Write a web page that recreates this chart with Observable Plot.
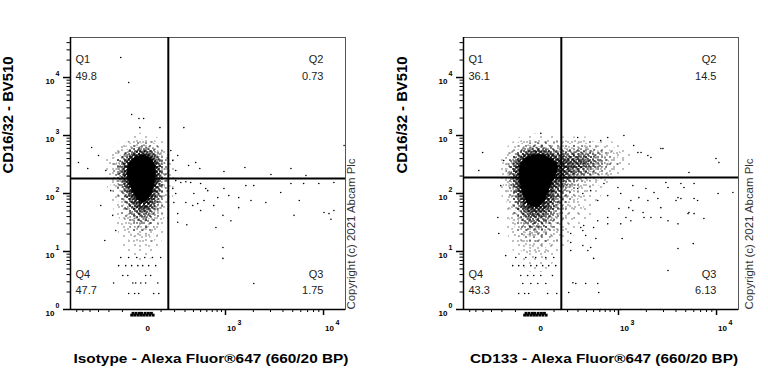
<!DOCTYPE html>
<html><head><meta charset="utf-8">
<script src="https://cdn.jsdelivr.net/npm/d3@7"></script>
<script src="https://cdn.jsdelivr.net/npm/@observablehq/plot@0.6"></script>
<style>
body{margin:0;background:#fff;}
#wrap{display:flex;width:768px;height:384px;overflow:hidden;}
</style></head><body>
<svg width="0" height="0" style="position:absolute">
  <defs>
    <pattern id="s1" width="11" height="9" patternUnits="userSpaceOnUse"><rect x="2" y="1" width="1" height="1"/><rect x="7" y="6" width="1" height="1"/></pattern>
    <pattern id="s2" width="9" height="11" patternUnits="userSpaceOnUse"><rect x="4" y="3" width="1" height="1"/><rect x="1" y="8" width="1" height="1"/><rect x="7" y="9" width="1" height="1"/></pattern>
    <pattern id="s3" width="8" height="7" patternUnits="userSpaceOnUse"><rect x="1" y="2" width="1" height="1"/><rect x="5" y="5" width="1" height="1"/></pattern>
    <pattern id="s4" width="7" height="6" patternUnits="userSpaceOnUse"><rect x="3" y="0" width="1" height="1"/><rect x="0" y="4" width="1" height="1"/><rect x="5" y="3" width="1" height="1"/></pattern>
    <pattern id="s5" width="5" height="5" patternUnits="userSpaceOnUse"><rect x="1" y="1" width="1" height="1"/><rect x="3" y="3" width="1" height="1"/><rect x="4" y="0" width="1" height="1"/></pattern>
    <pattern id="s6" width="4" height="4" patternUnits="userSpaceOnUse"><rect x="0" y="2" width="1" height="1"/><rect x="2" y="1" width="1" height="1"/><rect x="3" y="3" width="1" height="1"/></pattern>
  </defs>
</svg>
<div id="wrap"></div>
<script>
// ---------- axis / scale data ----------
const xDomain = [-715, 16300];
const yDomain = [1, 49000];
const xMajor = [0, 1000, 10000];
const xMajorBase = ["0", "10", "10"];
const xMajorExp = ["", "3", "4"];
const xMinor = [-600, -500, -400, -300, -200, -100, 100, 200, 300, 400, 500, 600, 700, 800, 900,
  2000, 3000, 4000, 5000, 6000, 7000, 8000, 9000];
const yMajor = [1, 10, 100, 1000, 10000];
const yMajorExp = ["0", "1", "2", "3", "4"];
const yMinor = [2, 3, 4, 5, 6, 7, 8, 9, 20, 30, 40, 50, 60, 70, 80, 90, 200, 300, 400, 500, 600, 700, 800, 900,
  2000, 3000, 4000, 5000, 6000, 7000, 8000, 9000, 20000, 30000, 40000];

const yTitle = "CD16/32 - BV510";
const xTitles = ["Isotype - Alexa Fluor®647 (660/20 BP)", "CD133 - Alexa Fluor®647 (660/20 BP)"];
const copyright = "Copyright (c) 2021 Abcam Plc";
const quadNames = ["Q1", "Q2", "Q3", "Q4"];
const isoPct = ["49.8", "0.73", "1.75", "47.7"];
const cdPct = ["36.1", "14.5", "6.13", "43.3"];
const isoGate = [150, 182];
const cdGate = [150, 188];

// ---------- event data ----------
// local event density: [x, y, relative weight]
const isoCore = [
  [-52,820,0.5],[-4,820,0.8],[41,820,0.6],
  [-185,551,0.4],[-111,551,0.6],[-52,551,2],[-4,551,4],[41,551,3],[98,551,0.8],
  [-228,371,0.4],[-146,371,0.8],[-80,371,4],[-27,371,9],[17,371,10],[68,371,5],[118,371,1],
  [-228,250,0.5],[-146,250,1],[-80,250,6],[-27,250,10],[17,250,10],[68,250,6],[125,250,1.2],
  [-185,167,0.6],[-131,167,1],[-68,167,6],[-17,167,10],[27,167,10],[80,167,4],
  [-111,112,1.2],[-52,112,5],[-4,112,9],[41,112,7],[98,112,2],
  [-98,76,1.2],[-41,76,4.5],[4,76,7],[52,76,4.5],[111,76,1.4],
  [-80,51,2],[-27,51,4.5],[17,51,5],[68,51,3],
  [-80,32,1.5],[-27,32,3.5],[17,32,3.5],[68,32,2],
  [-80,18.9,1.2],[-17,18.9,2.2],[31,18.9,2],[86,18.9,0.8],
  [-52,10.4,1.2],[4,10.4,1.4],[52,10.4,0.9],
  [-52,5.7,0.6],[17,5.7,0.6],
  [-27,3.16,0.4],[31,3.16,0.4]];
const cdCore = [
  [-47,820,0.6],[22,820,0.8],[105,820,0.5],
  [-105,551,0.8],[-47,551,3],[0,551,4],[47,551,4],[105,551,2],[177,551,2.4],[267,551,3.2],[379,551,3.2],[518,551,2.4],[692,551,1.6],[908,551,1],[1178,551,0.6],
  [-154,371,1],[-86,371,5],[-31.5,371,9],[12.8,371,10],[63,371,8],[125,371,5],[201,371,4.8],[297,371,5.6],[418,371,4.8],[565,371,4],[750,371,2.4],[985,371,1.6],[1270,371,0.8],
  [-154,250,1.2],[-86,250,6],[-31.5,250,10],[12.8,250,10],[63,250,9],[125,250,6],[201,250,4.8],[297,250,4.8],[445,250,4],[635,250,2.4],[908,250,1.3],
  [-139,167,1.2],[-74,167,6],[-22,167,10],[22,167,10],[74,167,6],[139,167,3.5],[219,167,2.8],[342,167,1.8],[518,167,1.2],[750,167,0.6],
  [-125,112,1.5],[-63,112,7],[-12.8,112,10],[31.5,112,8],[86,112,4],[160,112,3],[267,112,1.8],[445,112,1],[692,112,0.5],
  [-105,76,1.5],[-47,76,5.5],[0,76,8],[47,76,5.5],[105,76,3.5],[185,76,2.2],[320,76,1.5],[518,76,0.7],
  [-105,51,1.6],[-47,51,5],[0,51,6],[47,51,5],[105,51,3],[201,51,1.8],[342,51,1.2],[565,51,0.5],
  [-105,32,1.4],[-47,32,4],[0,32,4.5],[47,32,4],[105,32,2.6],[201,32,1.4],[379,32,0.9],
  [-105,18.9,1.1],[-47,18.9,3],[8.4,18.9,3.4],[63,18.9,2.8],[125,18.9,1.6],[238,18.9,1],
  [-74,10.4,1.4],[-12.8,10.4,2.1],[41,10.4,2.1],[105,10.4,1.1],
  [-47,5.7,0.9],[12.8,5.7,1.1],[74,5.7,0.7],
  [-31.5,3.16,0.5],[41,3.16,0.5]];

// scattered single events: [x, y]
const isoDots = [[228,452],[288,1370],[340,304],[430,342],[488,270],[960,239],[1630,281],[3030,213],[4800,270],
  [6750,204],[15800,673],[185,371],[210,250],[169,551],
  [210,167],[257,155],[309,160],[365,155],[185,122],[210,100],[194,70],[228,45],[228,32],[320,29],[405,100],
  [500,149],[582,122],[616,112],[309,70],[390,62],[457,67],[500,51],[553,76],[730,62],[815,85],[960,122],
  [1090,92],[935,42],[1150,34],[775,26],[1400,85],[1400,57],[1670,137],[2020,137],[1890,76],[2690,70],
  [3800,104],[4800,149],[5800,76],[5150,42],[6400,149],[9000,149],[12600,155],[10100,47],[11300,45],
  [12600,51],[11800,36],[935,11.7],[935,7.6],[2020,2.8],
  [-111,22100],[-63,8200],[-47,2300],[-12,1960],[8,1960],[-8,1370],[93,1370],[-379,621],[-570,342],
  [-430,270],[-300,452],[-228,250],[-185,112],[-276,62],[-169,42],[-146,23],[-237,15.5]];
const cdDots = [[2075,452],[2230,417],[2960,597],[5380,230],[9870,401],[10550,342],[1150,1000],[750,924],
  [297,924],[1470,673],[1630,509],[616,820],[27,1090],[1760,509],[2820,597],
  [-405,509],[-457,250],[-237,38.6],[-228,20.4],[-185,371],[-210,137],[-169,8.5],
  [676,149],[985,127],[1440,137],[1980,122],[2400,104],[3170,155],[4480,149],[6040,149],[14400,104],
  [1670,85],[2075,76],[2630,82],[4000,76],[4480,82],[6040,82],[1010,55],[1300,57],[1440,51],[1850,47],
  [2230,38.6],[2820,38.6],[3330,34],[5380,47],[6040,45],[7540,37],[1370,34],[1060,30],[565,34],[750,38.6],
  [500,26],[331,26],[390,18.9],[228,14.3],[355,12.7],[457,11.7],[1100,16.8],[500,7.6],[4190,11.3],
  [5930,13.7],[3330,4.7],[277,2.8],[390,2.8],[565,2.8],[582,1.96],[210,1.96],
  [297,122],[355,100],[457,112],[565,76],[750,92],[1060,100],[1370,76],[2820,57],[3330,127],[4190,85],
  [4800,127],[6540,76],[10350,100],[4190,30],[5270,45],[1890,38.6],[1210,38.6],[750,30],[365,28],
  [355,23],[535,16.8],[418,10.4],[228,20.4],[228,10.4],[248,2.9],
  [146,1],[309,1],[616,1],[1060,1],[1760,1],[2820,1],[5700,1],[9300,1]];

// quantised low rows of the negative population
const isoRowY = [7.9, 5.7, 3.86, 2.86, 1.89];
const isoRowX = [[-111,-63,-22,13,50,98],[-125,-80,-47,-17,4,31,68],[-98,-68,17,41],[-162,-41,-27,-4,17,80],[-63,-32,-13,57,86]];
const cdRowY = [7.9, 5.7, 3.86, 2.8, 1.89];
const cdRowX = [[-98,-41,4,52,98],[-118,-80,-52,-17,8,36,68,111],[-68,-32,-4,27,90],[-57,-17,13,52],[-80,-47,-27,62,118]];
// off-scale events piled under the x axis
const rugY = [0.8, 0.86];
const rugX = [[-47,-32,-17,-4,8,22,37,54],[-40,-25,-10,0,15,30,45]];

const FONT = "'Liberation Sans', Arial, Helvetica, sans-serif";

function rowsToPoints(ys, xs) {
  const out = [];
  ys.forEach((y, i) => xs[i].forEach(x => out.push([x, y])));
  return out;
}

// density level -> stipple texture (denser inward, black at the core)
const stipple = t => t < 0.05 ? "url(#s1)" : t < 0.10 ? "url(#s2)" : t < 0.18 ? "url(#s3)" :
  t < 0.28 ? "url(#s4)" : t < 0.42 ? "url(#s5)" : t < 0.62 ? "url(#s6)" : "black";

function panel({core, dots, rows, pct, xTitle, gate, marginLeft, marginRight, yTitleDx, copyDx, xTitleDx, titleLen}) {
  const rug = rowsToPoints(rugY, rugX);
  const svg = Plot.plot({
    width: 384, height: 384,
    marginLeft, marginRight, marginTop: 37, marginBottom: 75,
    style: {fontFamily: FONT, background: "white", color: "black"},
    x: {type: "symlog", constant: 190, domain: xDomain},
    y: {type: "log", domain: yDomain},
    color: {type: "linear", interpolate: stipple},
    marks: [
      Plot.frame({stroke: "#555", strokeWidth: 1}),
      Plot.density(core, {x: d => d[0], y: d => d[1], weight: d => d[2], bandwidth: 6, thresholds: 24,
        fill: "density", stroke: "none", clip: true}),
      Plot.dot(dots.concat(rows), {x: d => d[0], y: d => d[1], r: 0.8, fill: "black", stroke: "none"}),
      Plot.dot(rug, {x: d => d[0], y: d => d[1], r: 1.6, symbol: "square", fill: "black", stroke: "none"}),
      Plot.ruleX([gate[0]], {stroke: "black", strokeWidth: 2}),
      Plot.ruleY([gate[1]], {stroke: "black", strokeWidth: 2}),
      Plot.ruleX([xDomain[0]], {stroke: "black", strokeWidth: 1.5}),
      Plot.ruleY([yDomain[0]], {stroke: "black", strokeWidth: 1.5}),
      // axes
      Plot.axisY({ticks: yMajor, tickSize: 7, strokeWidth: 1.5, tickFormat: () => ""}),
      Plot.axisY({ticks: yMinor, tickSize: 3.5, strokeWidth: 1, tickFormat: () => ""}),
      Plot.axisX({ticks: xMajor.slice(1), tickSize: 6, strokeWidth: 1.5, tickFormat: () => ""}),
      Plot.axisX({ticks: xMinor, tickSize: 3, strokeWidth: 1, tickFormat: () => ""}),
      Plot.text(yMajor, {y: d => d, text: () => "10", frameAnchor: "left", dx: -16, dy: 3.5,
        textAnchor: "end", fontSize: 8, fontWeight: "bold"}),
      Plot.text(yMajor, {y: d => d, text: (d, i) => yMajorExp[i], frameAnchor: "left", dx: -15, dy: -4,
        textAnchor: "start", fontSize: 7, fontWeight: "bold"}),
      Plot.text(xMajor, {x: d => d, text: (d, i) => xMajorBase[i], frameAnchor: "bottom", dx: 6, dy: 21,
        fontSize: 8, fontWeight: "bold"}),
      Plot.text(xMajor, {x: d => d, text: (d, i) => xMajorExp[i], frameAnchor: "bottom", dx: 12, dy: 15,
        textAnchor: "start", fontSize: 7, fontWeight: "bold"}),
      // quadrant labels
      Plot.text([quadNames[0]], {frameAnchor: "top-left", dx: 5, dy: 18, textAnchor: "start", fontSize: 11, fill: "#222"}),
      Plot.text([pct[0]], {frameAnchor: "top-left", dx: 5, dy: 35, textAnchor: "start", fontSize: 11, fill: "#222"}),
      Plot.text([quadNames[1]], {frameAnchor: "top-right", dx: -22, dy: 18, textAnchor: "end", fontSize: 11, fill: "#222"}),
      Plot.text([pct[1]], {frameAnchor: "top-right", dx: -22, dy: 35, textAnchor: "end", fontSize: 11, fill: "#222"}),
      Plot.text([quadNames[2]], {frameAnchor: "bottom-right", dx: -22, dy: -32, textAnchor: "end", fontSize: 11, fill: "#222"}),
      Plot.text([pct[2]], {frameAnchor: "bottom-right", dx: -22, dy: -16, textAnchor: "end", fontSize: 11, fill: "#222"}),
      Plot.text([quadNames[3]], {frameAnchor: "bottom-left", dx: 5, dy: -32, textAnchor: "start", fontSize: 11, fill: "#222"}),
      Plot.text([pct[3]], {frameAnchor: "bottom-left", dx: 5, dy: -16, textAnchor: "start", fontSize: 11, fill: "#222"}),
      // titles
      Plot.text([yTitle], {frameAnchor: "left", dx: yTitleDx, rotate: -90, fontSize: 14, fontWeight: "bold"}),
      Plot.text([xTitle], {frameAnchor: "bottom", dx: xTitleDx, dy: 53, fontSize: 13, fontWeight: "bold"}),
      Plot.text([copyright], {frameAnchor: "bottom-right", dx: copyDx, rotate: -90, textAnchor: "start",
        fontSize: 11, fill: "#333"})
    ]
  });
  // stretch titles to the widths used in the picture
  svg.querySelectorAll("text").forEach(t => {
    if (t.textContent === yTitle) { t.setAttribute("textLength", 117); t.setAttribute("lengthAdjust", "spacingAndGlyphs"); }
    if (t.textContent === xTitle) { t.setAttribute("textLength", titleLen); t.setAttribute("lengthAdjust", "spacingAndGlyphs"); }
    if (t.textContent === copyright) { t.setAttribute("textLength", 151); t.setAttribute("lengthAdjust", "spacingAndGlyphs"); }
  });
  return svg;
}

const wrap = document.getElementById("wrap");
wrap.appendChild(panel({core: isoCore, dots: isoDots, rows: rowsToPoints(isoRowY, isoRowX), pct: isoPct,
  xTitle: xTitles[0], gate: isoGate, marginLeft: 70, marginRight: 39, yTitleDx: -62, copyDx: 9, xTitleDx: 3, titleLen: 275}));
wrap.appendChild(panel({core: cdCore, dots: cdDots, rows: rowsToPoints(cdRowY, cdRowX), pct: cdPct,
  xTitle: xTitles[1], gate: cdGate, marginLeft: 79, marginRight: 30, yTitleDx: -61, copyDx: 14, xTitleDx: 3, titleLen: 268}));
</script></body></html>
